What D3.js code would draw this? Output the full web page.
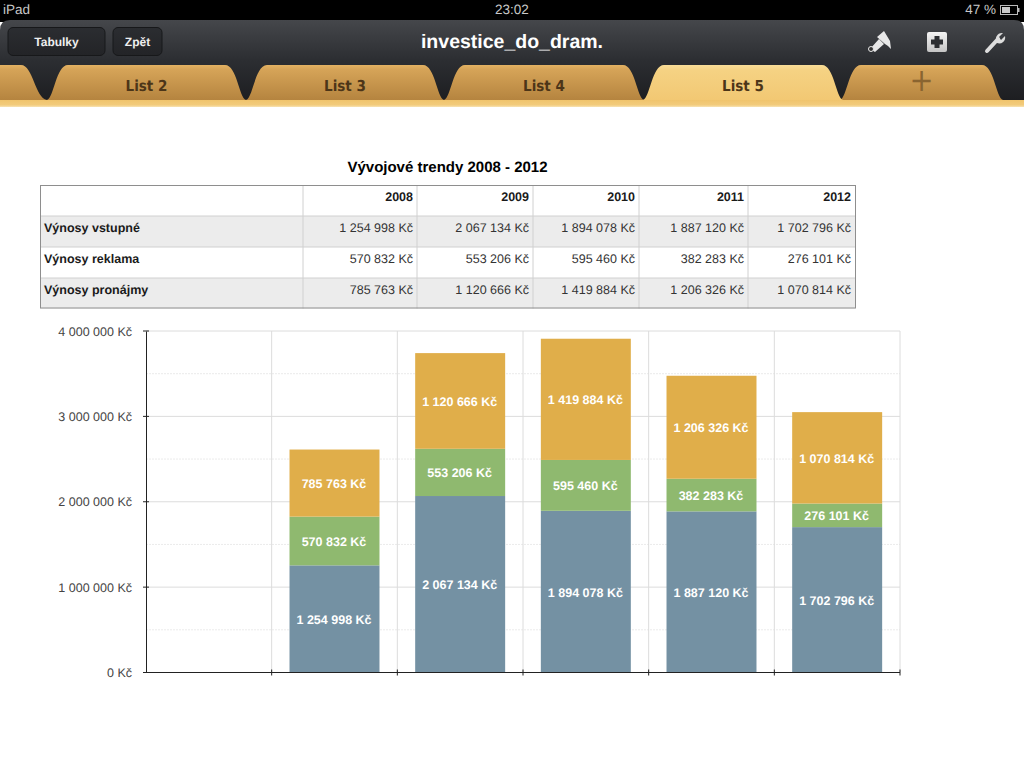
<!DOCTYPE html>
<html>
<head>
<meta charset="utf-8">
<script src="https://cdn.jsdelivr.net/npm/d3@7"></script>
<style>
html,body{margin:0;padding:0;background:#fff;overflow:hidden}
text{font-family:"Liberation Sans",Arial,sans-serif;text-rendering:geometricPrecision}
</style>
</head>
<body>
<script>
var chartTitle = 'Vývojové trendy 2008 - 2012'
var years = ['2008','2009','2010','2011','2012']
var slots = [''].concat(years)
var vstupne = [1254998,2067134,1894078,1887120,1702796]
var reklama = [570832,553206,595460,382283,276101]
var pronajmy = [785763,1120666,1419884,1206326,1070814]
var rowNames = ['Výnosy vstupné','Výnosy reklama','Výnosy pronájmy']
var rowValues = [vstupne,reklama,pronajmy]
var seriesColors = ['#7491a3','#8fb96f','#e0ae4a']
var yTicks = [0,1000000,2000000,3000000,4000000]
var yMinor = [500000,1500000,2500000,3500000]
var tabNames = ['List 2','List 3','List 4','List 5','+']

var kc = d3.formatLocale({decimal:',',thousands:' ',grouping:[3],currency:['','']}).format(',d')
function money(v){ return kc(v)+' Kč' }

var svg = d3.select('body').append('svg').attr('width',1024).attr('height',768)
  .style('display','block')
var defs = svg.append('defs')

function gradient(id,stops){
  var g = defs.append('linearGradient').attr('id',id).attr('x1',0).attr('x2',0).attr('y1',0).attr('y2',1)
  stops.forEach(function(s){ g.append('stop').attr('offset',s[0]).attr('stop-color',s[1]) })
}
gradient('bar',[[0,'#45474b'],[0.5,'#2c2e32'],[1,'#1d1e21']])
gradient('btn',[[0,'#2b2d31'],[1,'#232427']])
gradient('tab',[[0,'#e3b263'],[0.12,'#d6a458'],[1,'#b5843f']])
gradient('active',[[0,'#f8dd98'],[0.15,'#f5d283'],[1,'#f2c873']])
gradient('strip',[[0,'#f0c46c'],[0.7,'#f2cb7c'],[1,'#f8e3b4']])
gradient('box',[[0,'#f4f4f4'],[1,'#c4c4c4']])

// ipad chrome
svg.append('rect').attr('width',1024).attr('height',22).attr('fill','#000')
svg.append('text').attr('x',3).attr('y',14).attr('fill','#c9c9c9').attr('font-size',13.5).text('iPad')
svg.append('text').attr('x',512).attr('y',14).attr('fill','#c9c9c9').attr('font-size',13.5).attr('text-anchor','middle').text('23:02')
svg.append('text').attr('x',996).attr('y',14).attr('fill','#c9c9c9').attr('font-size',13.5).attr('text-anchor','end').text('47 %')
svg.append('rect').attr('x',1000.5).attr('y',5.5).attr('width',17).attr('height',9).attr('fill','none').attr('stroke','#bbb')
svg.append('rect').attr('x',1002).attr('y',7).attr('width',8).attr('height',6).attr('fill','#c9c9c9')
svg.append('rect').attr('x',1018).attr('y',8).attr('width',1.5).attr('height',4).attr('fill','#bbb')

svg.append('path').attr('d','M0,30Q0,20 10,20H1014Q1024,20 1024,30V100H0Z').attr('fill','url(#bar)')

var buttons = [['Tabulky',8,97],['Zpět',113,49]]
buttons.forEach(function(b){
  svg.append('rect').attr('x',b[1]).attr('y',27.5).attr('width',b[2]).attr('height',28).attr('rx',5)
    .attr('fill','url(#btn)').attr('stroke','#17181a')
  svg.append('text').attr('x',b[1]+b[2]/2).attr('y',46).attr('text-anchor','middle')
    .attr('fill','#eee').attr('font-size',12).attr('font-weight','bold').text(b[0])
})
svg.append('text').attr('x',512).attr('y',48).attr('text-anchor','middle').attr('fill','#fff')
  .attr('font-size',19.5).attr('font-weight','bold').text('investice_do_dram.')

// brush, plus box, wrench
svg.append('path').attr('d','M870,49L879,39L884,44L875,52Z M877,37L884,31L890,41L891,49L888,46L885,44Z').attr('fill','#e8e8e8')
svg.append('circle').attr('cx',871).attr('cy',49).attr('r',2.5).attr('fill','#333').attr('stroke','#e8e8e8')
svg.append('rect').attr('x',927).attr('y',32).attr('width',20).attr('height',20).attr('rx',2).attr('fill','url(#box)')
svg.append('path').attr('d','M934.5,36H939.5V39.500H943V44.500H939.500V48H934.500V44.500H931V39.500H934.500Z').attr('fill','#2c2e32')
svg.append('path').attr('d','M987,51L998,39').attr('stroke','#ddd').attr('stroke-width',4).attr('stroke-linecap','round')
svg.append('path').attr('d','M996,40A6,6 0 0 1 1003,33L999,37L1001,40L1005,36A6,6 0 0 1 997,43Z').attr('fill','#ddd')

// tabs
var tabEdges = [[47,246],[246,444],[444,644],[643,843],[840,1003]]
function tabPath(a,b){
  return 'M'+a+',100C'+(a+7)+',98 '+(a+9)+',65 '+(a+21)+',65H'+(b-21)+'C'+(b-9)+',65 '+(b-7)+',98 '+b+',100Z'
}
svg.append('path').attr('d','M0,65H21C33,65 35,98 47,100H0Z').attr('fill','url(#tab)')
svg.selectAll('.tab').data(tabEdges).enter().append('path').attr('class','tab')
  .attr('d',function(d){ return tabPath(d[0],d[1]) })
  .attr('fill',function(d,i){ return i==3 ? 'none' : 'url(#tab)' })
svg.append('rect').attr('x',0).attr('y',100).attr('width',1024).attr('height',7).attr('fill','url(#strip)')
svg.append('path').attr('d',tabPath(643,843)).attr('fill','url(#active)')
svg.selectAll('.tabname').data(tabNames).enter().append('text').attr('class','tabname')
  .attr('x',function(d,i){ return (tabEdges[i][0]+tabEdges[i][1])/2 })
  .attr('y',91)
  .attr('text-anchor','middle')
  .attr('fill',function(d,i){ return i==4 ? '#8a6430' : '#4c3518' })
  .attr('font-size',function(d,i){ return i==4 ? 32 : 15 })
  .attr('font-weight',function(d,i){ return i==4 ? 'normal' : 'bold' })
  .style('font-family','"Liberation Sans Narrow","DejaVu Sans Condensed",sans-serif')
  .text(function(d){ return d })

// title and table
svg.append('text').attr('x',447.500).attr('y',172).attr('text-anchor','middle')
  .attr('font-size',15).attr('font-weight','bold').attr('fill','#000').text(chartTitle)

var colX = [40,303,417,533,639,748,855]
var rowY = [185,216,247,278,308.500]
rowNames.forEach(function(n,i){
  if(i!=1) svg.append('rect').attr('x',colX[0]).attr('y',rowY[i+1]).attr('width',colX[6]-colX[0])
    .attr('height',rowY[i+2]-rowY[i+1]).attr('fill','#ececec')
})
rowY.slice(1,4).forEach(function(y){
  svg.append('line').attr('x1',colX[0]).attr('x2',colX[6]).attr('y1',y).attr('y2',y).attr('stroke','#d0d0d0')
})
colX.slice(1,6).forEach(function(x){
  svg.append('line').attr('x1',x).attr('x2',x).attr('y1',rowY[0]).attr('y2',rowY[4]).attr('stroke','#d0d0d0')
})
svg.append('rect').attr('x',colX[0]+.5).attr('y',rowY[0]+.5).attr('width',colX[6]-colX[0]).attr('height',rowY[4]-rowY[0]-1)
  .attr('fill','none').attr('stroke','#8e8e8e')
years.forEach(function(y,j){
  svg.append('text').attr('x',colX[j+2]-4).attr('y',201).attr('text-anchor','end')
    .attr('font-size',12.5).attr('font-weight','bold').attr('fill','#1a1a1a').text(y)
})
rowNames.forEach(function(n,i){
  svg.append('text').attr('x',44).attr('y',232+i*31).attr('font-size',12.5).attr('font-weight','bold').attr('fill','#1a1a1a').text(n)
  rowValues[i].forEach(function(v,j){
    svg.append('text').attr('x',colX[j+2]-4).attr('y',232+i*31).attr('text-anchor','end')
      .attr('font-size',12.5).attr('fill','#333').text(money(v))
  })
})

// chart
var x = d3.scaleBand().domain(slots).range([146,900]).paddingInner(.284).paddingOuter(.142)
var y = d3.scaleLinear().domain([0,4000000]).range([672.5,331])
var step = x.step()
var edges = d3.range(0,7).map(function(i){ return 146+i*step })

var stack = years.map(function(yr,j){ return {year:yr,a:vstupne[j],b:reklama[j],c:pronajmy[j]} })
var layers = d3.stack().keys(['a','b','c'])(stack)

svg.append('g').selectAll('line').data(yMinor).enter().append('line')
  .attr('x1',146).attr('x2',900).attr('y1',y).attr('y2',y).attr('stroke','#ebebeb').attr('stroke-dasharray','2 1')
svg.append('g').selectAll('line').data(yTicks.slice(1)).enter().append('line')
  .attr('x1',146).attr('x2',900).attr('y1',y).attr('y2',y).attr('stroke','#dcdcdc')
svg.append('g').selectAll('line').data(edges.slice(1)).enter().append('line')
  .attr('x1',function(d){ return d }).attr('x2',function(d){ return d }).attr('y1',331).attr('y2',672).attr('stroke','#dcdcdc')

var groups = svg.selectAll('.layer').data(layers).enter().append('g').attr('class','layer')
  .attr('fill',function(d,i){ return seriesColors[i] })
groups.selectAll('rect').data(function(d){ return d }).enter().append('rect')
  .attr('x',function(d){ return x(d.data.year) })
  .attr('width',x.bandwidth())
  .attr('y',function(d){ return y(d[1]) })
  .attr('height',function(d){ return y(d[0])-y(d[1]) })
groups.selectAll('text').data(function(d){ return d }).enter().append('text')
  .attr('x',function(d){ return x(d.data.year)+x.bandwidth()/2-.5 })
  .attr('y',function(d){ return y((d[0]+d[1])/2)+5 })
  .attr('text-anchor','middle').attr('fill','#fff').attr('font-size',12.5).attr('font-weight','bold')
  .text(function(d){ return money(d[1]-d[0]) })

var yAxis = d3.axisLeft(y).tickValues(yTicks).tickFormat(money).tickSize(0).tickPadding(14)
var ya = svg.append('g').attr('transform','translate(146,0)').call(yAxis)
ya.select('.domain').attr('stroke','#222')
ya.selectAll('text').attr('font-size',12.5).attr('fill','#444').style('font-family','"Liberation Sans",Arial,sans-serif')
svg.append('g').selectAll('line').data(yTicks).enter().append('line')
  .attr('x1',143).attr('x2',149).attr('y1',y).attr('y2',y).attr('stroke','#222')
svg.append('line').attr('x1',143).attr('x2',900).attr('y1',y(0)).attr('y2',y(0)).attr('stroke','#222')
svg.append('g').selectAll('line').data(edges.slice(1)).enter().append('line')
  .attr('x1',function(d){ return d }).attr('x2',function(d){ return d }).attr('y1',669.5).attr('y2',675.5).attr('stroke','#222')
</script>
</body>
</html>
